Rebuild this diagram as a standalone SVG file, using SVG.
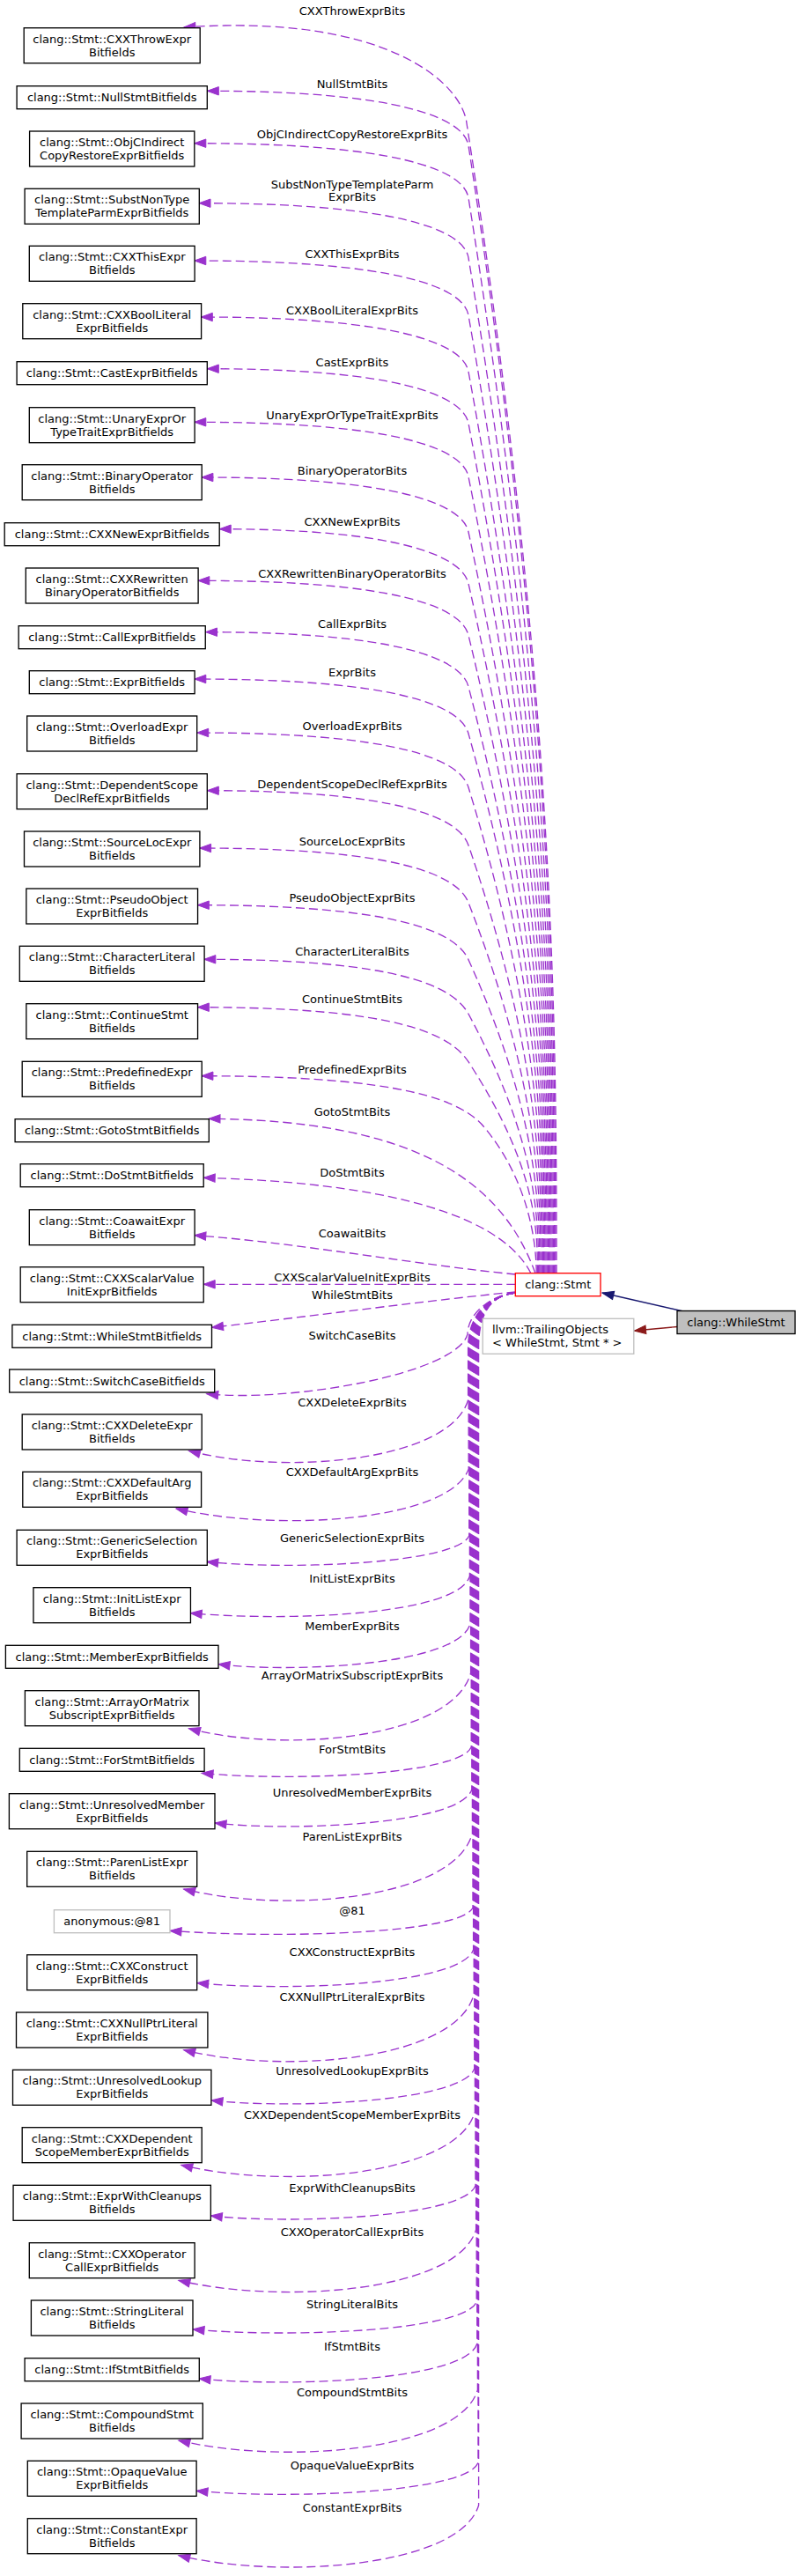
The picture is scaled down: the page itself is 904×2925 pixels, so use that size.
<svg xmlns="http://www.w3.org/2000/svg" width="904" height="2925" viewBox="0 0 904 2925">
<style>
text{font-family:"DejaVu Sans","Liberation Sans",sans-serif;font-size:13px;fill:#000}
.c{text-anchor:middle}
.b{fill:#fff;stroke:#000;stroke-width:1.33}
.g{fill:#fff;stroke:#bfbfbf;stroke-width:1.33}
.e{fill:none;stroke:#9a32cd;stroke-width:1.33;stroke-dasharray:10,5;marker-end:url(#pa)}
</style>
<defs>
<marker id="pa" markerUnits="userSpaceOnUse" markerWidth="15" markerHeight="11" refX="13" refY="5" orient="auto" overflow="visible"><path d="M0,0.3 L13,5 L0,9.7 Z" fill="#9a32cd" stroke="#9a32cd" stroke-width="1"/></marker>
<marker id="na" markerUnits="userSpaceOnUse" markerWidth="15" markerHeight="11" refX="13" refY="5" orient="auto" overflow="visible"><path d="M0,0.3 L13,5 L0,9.7 Z" fill="#191970" stroke="#191970" stroke-width="1"/></marker>
<marker id="ra" markerUnits="userSpaceOnUse" markerWidth="15" markerHeight="11" refX="13" refY="5" orient="auto" overflow="visible"><path d="M0,0.3 L13,5 L0,9.7 Z" fill="#8b1a1a" stroke="#8b1a1a" stroke-width="1"/></marker>
</defs>
<rect x="0" y="0" width="904" height="2925" fill="#fff"/>

<g id="connectors">
<path class="e" d="M632,1446 C632,1184.8 632,793 530,140 C525,95 440,15 209,31"/>
<path class="e" d="M630.8,1446 C630.8,1189.9 630.8,805.7 532,165.3 C527.1,133.3 450,103.3 235.3,103.3"/>
<path class="e" d="M629.6,1446 C629.6,1201.7 629.6,835.4 532,224.7 C526.9,192.7 450,162.7 220.8,162.7"/>
<path class="e" d="M628.4,1446 C628.4,1215.3 628.4,869.4 532,292.7 C526.7,260.7 450,230.7 226,230.7"/>
<path class="e" d="M627.2,1446 C627.2,1228.4 627.2,902 532,358 C526.4,326 450,296 220.8,296"/>
<path class="e" d="M626,1446 C626,1241.2 626,934 532,422 C526.1,390 450,360 228.3,360"/>
<path class="e" d="M624.8,1446 C624.8,1252.9 624.8,963.4 532,480.7 C525.8,448.7 450,418.7 235.3,418.7"/>
<path class="e" d="M623.6,1446 C623.6,1265.1 623.6,993.7 532,541.3 C525.5,509.3 450,479.3 220.8,479.3"/>
<path class="e" d="M622.4,1446 C622.4,1277.6 622.4,1025 532,604 C525.1,572 450,542 228.9,542"/>
<path class="e" d="M621.2,1446 C621.2,1289.3 621.2,1054.4 532,662.7 C524.7,630.7 450,600.7 249.2,600.7"/>
<path class="e" d="M620,1446 C620,1301.1 620,1083.7 532,721.3 C524.2,689.3 450,659.3 224.8,659.3"/>
<path class="e" d="M618.8,1446 C618.8,1312.7 618.8,1112.9 532,779.7 C523.7,747.7 450,717.7 233.5,717.7"/>
<path class="e" d="M617.6,1446 C617.6,1323.4 617.6,1139.5 532,833 C523.1,801 450,771 220.8,771"/>
<path class="e" d="M616.4,1446 C616.4,1335.6 616.4,1170 532,894 C522.2,862 450,832 223.7,832"/>
<path class="e" d="M615.2,1446 C615.2,1348.7 615.2,1202.9 532,959.7 C521.1,927.7 450,897.7 235.3,897.7"/>
<path class="e" d="M614,1446 C614,1361.8 614,1235.5 532,1025 C519.5,993 450,963 226.6,963"/>
<path class="e" d="M612.8,1446 C612.8,1374.7 612.8,1267.9 532,1089.7 C517.5,1057.7 450,1027.7 224.3,1027.7"/>
<path class="e" d="M611.6,1446 C611.6,1387.1 611.6,1298.7 532,1151.3 C514.7,1119.3 450,1089.3 231.8,1089.3"/>
<path class="e" d="M610.4,1446 C610.4,1397.9 610.4,1325.9 532,1205.7 C511.1,1173.7 450,1143.7 224.3,1143.7"/>
<path class="e" d="M609.2,1446 C609.2,1410 600,1340 550,1280 C525,1250 460,1221.7 228.9,1221.7"/>
<path class="e" d="M608,1446 C570,1340 470,1272 237,1270.3"/>
<path class="e" d="M603,1446 C585,1410 520,1345 231.2,1337.3"/>
<path class="e" d="M585.3,1447 C480,1437 330,1410 220.8,1402.7"/>
<path class="e" d="M585.3,1458.3 L231.2,1458.3"/>
<path class="e" d="M585.3,1467 C500,1475 350,1495 240.5,1507.3"/>
<path class="e" d="M585,1468 C560,1470 531,1490 531,1515 C518,1560 330,1592.7 234.7,1582.7"/>
<path class="e" d="M585,1468 C558,1471 531.6,1490 531.6,1530 L531.6,1589.7 C510.6,1660.3 320,1675.3 214.4,1647.3"/>
<path class="e" d="M585,1468 C558,1471 532.2,1490 532.2,1530 L532.2,1668 C511.2,1726 320,1741 200,1713"/>
<path class="e" d="M585,1468 C558,1471 532.8,1490 532.8,1530 L532.8,1743.7 C519.8,1775.3 330,1783.3 234.7,1773.3"/>
<path class="e" d="M585,1468 C558,1471 533.4,1490 533.4,1530 L533.4,1789.7 C520.4,1833.7 330,1841.7 216.2,1831.7"/>
<path class="e" d="M585,1468 C558,1471 534,1490 534,1530 L534,1843.7 C521,1891.7 330,1899.7 248,1889.7"/>
<path class="e" d="M585,1468 C558,1471 534.6,1490 534.6,1530 L534.6,1899.7 C513.6,1975.7 320,1990.7 214.4,1962.7"/>
<path class="e" d="M585,1468 C558,1471 535.2,1490 535.2,1530 L535.2,1983.7 C522.2,2015.3 330,2023.3 229,2013.3"/>
<path class="e" d="M585,1468 C558,1471 535.8,1490 535.8,1530 L535.8,2032 C522.8,2072 330,2080 244,2070"/>
<path class="e" d="M585,1468 C558,1471 536.4,1490 536.4,1530 L536.4,2082 C515.4,2158 320,2173 208.6,2145"/>
<path class="e" d="M585,1468 C558,1471 537,1490 537,1530 L537,2166.3 C524,2194.3 330,2202.3 193,2192.3"/>
<path class="e" d="M585,1468 C558,1471 537.6,1490 537.6,1530 L537.6,2213.7 C524.6,2253.7 330,2261.7 223.7,2251.7"/>
<path class="e" d="M585,1468 C558,1471 538.2,1490 538.2,1530 L538.2,2264.7 C517.2,2340.7 320,2355.7 208.6,2327.7"/>
<path class="e" d="M585,1468 C558,1471 538.8,1490 538.8,1530 L538.8,2348.7 C525.8,2387 330,2395 240,2385"/>
<path class="e" d="M585,1468 C558,1471 539.4,1490 539.4,1530 L539.4,2398 C518.4,2471.3 320,2486.3 205.7,2458.3"/>
<path class="e" d="M585,1468 C558,1471 540,1490 540,1530 L540,2481.7 C527,2518 330,2526 239.3,2516"/>
<path class="e" d="M585,1468 C558,1471 540.6,1490 540.6,1530 L540.6,2531.7 C519.6,2602.3 320,2617.3 202.8,2589.3"/>
<path class="e" d="M585,1468 C558,1471 541.2,1490 541.2,1530 L541.2,2613.7 C528.2,2647 330,2655 219,2645"/>
<path class="e" d="M585,1468 C558,1471 541.8,1490 541.8,1530 L541.8,2661.3 C528.8,2703 330,2711 226,2701"/>
<path class="e" d="M585,1468 C558,1471 542.4,1490 542.4,1530 L542.4,2713.7 C521.4,2784 320,2799 202.8,2771"/>
<path class="e" d="M585,1468 C558,1471 543,1490 543,1530 L543,2796.3 C530,2830.3 330,2838.3 223,2828.3"/>
<path class="e" d="M585,1468 C558,1471 543.6,1490 543.6,1530 L543.6,2844.7 C522.6,2914.7 320,2929.7 202.8,2901.7"/>
<path d="M776,1489 L684,1468" fill="none" stroke="#191970" stroke-width="1.33" marker-end="url(#na)"/>
<path d="M769,1506.5 L720.5,1511" fill="none" stroke="#8b1a1a" stroke-width="1.33" marker-end="url(#ra)"/>
<g class="c">
<text x="400" y="16.5">CXXThrowExprBits</text>
<text x="400" y="100.2">NullStmtBits</text>
<text x="400" y="157.2">ObjCIndirectCopyRestoreExprBits</text>
<text x="400" y="213.5">SubstNonTypeTemplateParm</text>
<text x="400" y="228.2">ExprBits</text>
<text x="400" y="293.2">CXXThisExprBits</text>
<text x="400" y="356.5">CXXBoolLiteralExprBits</text>
<text x="400" y="416.2">CastExprBits</text>
<text x="400" y="476.2">UnaryExprOrTypeTraitExprBits</text>
<text x="400" y="538.8">BinaryOperatorBits</text>
<text x="400" y="596.8">CXXNewExprBits</text>
<text x="400" y="656.2">CXXRewrittenBinaryOperatorBits</text>
<text x="400" y="712.8">CallExprBits</text>
<text x="400" y="768.2">ExprBits</text>
<text x="400" y="829.2">OverloadExprBits</text>
<text x="400" y="895.2">DependentScopeDeclRefExprBits</text>
<text x="400" y="960.2">SourceLocExprBits</text>
<text x="400" y="1024.2">PseudoObjectExprBits</text>
<text x="400" y="1084.8">CharacterLiteralBits</text>
<text x="400" y="1139.2">ContinueStmtBits</text>
<text x="400" y="1219.2">PredefinedExprBits</text>
<text x="400" y="1267.2">GotoStmtBits</text>
<text x="400" y="1336.2">DoStmtBits</text>
<text x="400" y="1404.8">CoawaitBits</text>
<text x="400" y="1455.2">CXXScalarValueInitExprBits</text>
<text x="400" y="1474.5">WhileStmtBits</text>
<text x="400" y="1521.2">SwitchCaseBits</text>
<text x="400" y="1597.2">CXXDeleteExprBits</text>
<text x="400" y="1675.5">CXXDefaultArgExprBits</text>
<text x="400" y="1751.2">GenericSelectionExprBits</text>
<text x="400" y="1797.2">InitListExprBits</text>
<text x="400" y="1851.2">MemberExprBits</text>
<text x="400" y="1907.2">ArrayOrMatrixSubscriptExprBits</text>
<text x="400" y="1991.2">ForStmtBits</text>
<text x="400" y="2039.5">UnresolvedMemberExprBits</text>
<text x="400" y="2089.5">ParenListExprBits</text>
<text x="400" y="2173.8">@81</text>
<text x="400" y="2221.2">CXXConstructExprBits</text>
<text x="400" y="2272.2">CXXNullPtrLiteralExprBits</text>
<text x="400" y="2356.2">UnresolvedLookupExprBits</text>
<text x="400" y="2405.5">CXXDependentScopeMemberExprBits</text>
<text x="400" y="2489.2">ExprWithCleanupsBits</text>
<text x="400" y="2539.2">CXXOperatorCallExprBits</text>
<text x="400" y="2621.2">StringLiteralBits</text>
<text x="400" y="2668.8">IfStmtBits</text>
<text x="400" y="2721.2">CompoundStmtBits</text>
<text x="400" y="2803.8">OpaqueValueExprBits</text>
<text x="400" y="2852.2">ConstantExprBits</text>
</g>
</g>

<g id="n_whilestmt"><rect x="769" y="1488.5" width="134" height="26" fill="#bfbfbf" stroke="#000" stroke-width="1.33"/><text class="c" x="836" y="1506">clang::WhileStmt</text></g>
<g id="n_stmt"><rect x="585.3" y="1445.7" width="96.7" height="26" fill="#fff" stroke="#ff0000" stroke-width="1.33"/><text class="c" x="633.7" y="1463.2">clang::Stmt</text></g>
<g id="n_trailing"><rect class="g" x="548.2" y="1497.3" width="171.6" height="40"/><text x="559" y="1514.3">llvm::TrailingObjects</text><text x="559" y="1529.3">&lt; WhileStmt, Stmt * &gt;</text></g>

<g id="n1"><rect class="b" x="27.2" y="31.7" width="200" height="40"/><text class="c" x="127.2" y="48.7">clang::Stmt::CXXThrowExpr</text><text class="c" x="127.2" y="63.7">Bitfields</text></g>
<g id="n2"><rect class="b" x="19.1" y="97.7" width="216.2" height="26"/><text class="c" x="127.2" y="115.2">clang::Stmt::NullStmtBitfields</text></g>
<g id="n3"><rect class="b" x="33.6" y="149" width="187.2" height="40"/><text class="c" x="127.2" y="166">clang::Stmt::ObjCIndirect</text><text class="c" x="127.2" y="181">CopyRestoreExprBitfields</text></g>
<g id="n4"><rect class="b" x="28.1" y="214.3" width="198.2" height="40"/><text class="c" x="127.2" y="231.3">clang::Stmt::SubstNonType</text><text class="c" x="127.2" y="246.3">TemplateParmExprBitfields</text></g>
<g id="n5"><rect class="b" x="33.3" y="279.3" width="187.8" height="40"/><text class="c" x="127.2" y="296.3">clang::Stmt::CXXThisExpr</text><text class="c" x="127.2" y="311.3">Bitfields</text></g>
<g id="n6"><rect class="b" x="25.8" y="344.7" width="202.8" height="40"/><text class="c" x="127.2" y="361.7">clang::Stmt::CXXBoolLiteral</text><text class="c" x="127.2" y="376.7">ExprBitfields</text></g>
<g id="n7"><rect class="b" x="19.1" y="410.7" width="216.2" height="26"/><text class="c" x="127.2" y="428.2">clang::Stmt::CastExprBitfields</text></g>
<g id="n8"><rect class="b" x="33.3" y="462.7" width="187.8" height="40"/><text class="c" x="127.2" y="479.7">clang::Stmt::UnaryExprOr</text><text class="c" x="127.2" y="494.7">TypeTraitExprBitfields</text></g>
<g id="n9"><rect class="b" x="25.2" y="527.7" width="204" height="40"/><text class="c" x="127.2" y="544.7">clang::Stmt::BinaryOperator</text><text class="c" x="127.2" y="559.7">Bitfields</text></g>
<g id="n10"><rect class="b" x="5.2" y="593.7" width="244" height="26"/><text class="c" x="127.2" y="611.2">clang::Stmt::CXXNewExprBitfields</text></g>
<g id="n11"><rect class="b" x="29.3" y="645" width="195.8" height="40"/><text class="c" x="127.2" y="662">clang::Stmt::CXXRewritten</text><text class="c" x="127.2" y="677">BinaryOperatorBitfields</text></g>
<g id="n12"><rect class="b" x="21.15" y="710.7" width="212.1" height="26"/><text class="c" x="127.2" y="728.2">clang::Stmt::CallExprBitfields</text></g>
<g id="n13"><rect class="b" x="33.3" y="761.7" width="187.8" height="26"/><text class="c" x="127.2" y="779.2">clang::Stmt::ExprBitfields</text></g>
<g id="n14"><rect class="b" x="30.7" y="813" width="193" height="40"/><text class="c" x="127.2" y="830">clang::Stmt::OverloadExpr</text><text class="c" x="127.2" y="845">Bitfields</text></g>
<g id="n15"><rect class="b" x="19.1" y="878.7" width="216.2" height="40"/><text class="c" x="127.2" y="895.7">clang::Stmt::DependentScope</text><text class="c" x="127.2" y="910.7">DeclRefExprBitfields</text></g>
<g id="n16"><rect class="b" x="27.5" y="944" width="199.4" height="40"/><text class="c" x="127.2" y="961">clang::Stmt::SourceLocExpr</text><text class="c" x="127.2" y="976">Bitfields</text></g>
<g id="n17"><rect class="b" x="29.85" y="1009" width="194.7" height="40"/><text class="c" x="127.2" y="1026">clang::Stmt::PseudoObject</text><text class="c" x="127.2" y="1041">ExprBitfields</text></g>
<g id="n18"><rect class="b" x="22.3" y="1074.3" width="209.8" height="40"/><text class="c" x="127.2" y="1091.3">clang::Stmt::CharacterLiteral</text><text class="c" x="127.2" y="1106.3">Bitfields</text></g>
<g id="n19"><rect class="b" x="29.85" y="1139.7" width="194.7" height="40"/><text class="c" x="127.2" y="1156.7">clang::Stmt::ContinueStmt</text><text class="c" x="127.2" y="1171.7">Bitfields</text></g>
<g id="n20"><rect class="b" x="25.2" y="1205.3" width="204" height="40"/><text class="c" x="127.2" y="1222.3">clang::Stmt::PredefinedExpr</text><text class="c" x="127.2" y="1237.3">Bitfields</text></g>
<g id="n21"><rect class="b" x="17.1" y="1270.7" width="220.2" height="26"/><text class="c" x="127.2" y="1288.2">clang::Stmt::GotoStmtBitfields</text></g>
<g id="n22"><rect class="b" x="23.2" y="1321.7" width="208" height="26"/><text class="c" x="127.2" y="1339.2">clang::Stmt::DoStmtBitfields</text></g>
<g id="n23"><rect class="b" x="33.3" y="1373.7" width="187.8" height="40"/><text class="c" x="127.2" y="1390.7">clang::Stmt::CoawaitExpr</text><text class="c" x="127.2" y="1405.7">Bitfields</text></g>
<g id="n24"><rect class="b" x="23.2" y="1438.7" width="208" height="40"/><text class="c" x="127.2" y="1455.7">clang::Stmt::CXXScalarValue</text><text class="c" x="127.2" y="1470.7">InitExprBitfields</text></g>
<g id="n25"><rect class="b" x="13.9" y="1504.3" width="226.6" height="26"/><text class="c" x="127.2" y="1521.8">clang::Stmt::WhileStmtBitfields</text></g>
<g id="n26"><rect class="b" x="10.7" y="1555" width="233" height="26"/><text class="c" x="127.2" y="1572.5">clang::Stmt::SwitchCaseBitfields</text></g>
<g id="n27"><rect class="b" x="25.2" y="1606" width="204" height="40"/><text class="c" x="127.2" y="1623">clang::Stmt::CXXDeleteExpr</text><text class="c" x="127.2" y="1638">Bitfields</text></g>
<g id="n28"><rect class="b" x="25.8" y="1671.3" width="202.8" height="40"/><text class="c" x="127.2" y="1688.3">clang::Stmt::CXXDefaultArg</text><text class="c" x="127.2" y="1703.3">ExprBitfields</text></g>
<g id="n29"><rect class="b" x="19.1" y="1737.3" width="216.2" height="40"/><text class="c" x="127.2" y="1754.3">clang::Stmt::GenericSelection</text><text class="c" x="127.2" y="1769.3">ExprBitfields</text></g>
<g id="n30"><rect class="b" x="37.95" y="1802.7" width="178.5" height="40"/><text class="c" x="127.2" y="1819.7">clang::Stmt::InitListExpr</text><text class="c" x="127.2" y="1834.7">Bitfields</text></g>
<g id="n31"><rect class="b" x="6.4" y="1868.3" width="241.6" height="26"/><text class="c" x="127.2" y="1885.8">clang::Stmt::MemberExprBitfields</text></g>
<g id="n32"><rect class="b" x="28.4" y="1919.7" width="197.6" height="40"/><text class="c" x="127.2" y="1936.7">clang::Stmt::ArrayOrMatrix</text><text class="c" x="127.2" y="1951.7">SubscriptExprBitfields</text></g>
<g id="n33"><rect class="b" x="22.3" y="1985.3" width="209.8" height="26"/><text class="c" x="127.2" y="2002.8">clang::Stmt::ForStmtBitfields</text></g>
<g id="n34"><rect class="b" x="10.4" y="2036.7" width="233.6" height="40"/><text class="c" x="127.2" y="2053.7">clang::Stmt::UnresolvedMember</text><text class="c" x="127.2" y="2068.7">ExprBitfields</text></g>
<g id="n35"><rect class="b" x="30.7" y="2102.3" width="193" height="40"/><text class="c" x="127.2" y="2119.3">clang::Stmt::ParenListExpr</text><text class="c" x="127.2" y="2134.3">Bitfields</text></g>
<g id="n36"><rect class="g" x="61.4" y="2168.7" width="131.6" height="26"/><text class="c" x="127.2" y="2186.2">anonymous:@81</text></g>
<g id="n37"><rect class="b" x="30.7" y="2219.7" width="193" height="40"/><text class="c" x="127.2" y="2236.7">clang::Stmt::CXXConstruct</text><text class="c" x="127.2" y="2251.7">ExprBitfields</text></g>
<g id="n38"><rect class="b" x="18.5" y="2285" width="217.4" height="40"/><text class="c" x="127.2" y="2302">clang::Stmt::CXXNullPtrLiteral</text><text class="c" x="127.2" y="2317">ExprBitfields</text></g>
<g id="n39"><rect class="b" x="14.5" y="2350.3" width="225.4" height="40"/><text class="c" x="127.2" y="2367.3">clang::Stmt::UnresolvedLookup</text><text class="c" x="127.2" y="2382.3">ExprBitfields</text></g>
<g id="n40"><rect class="b" x="25.2" y="2415.7" width="204" height="40"/><text class="c" x="127.2" y="2432.7">clang::Stmt::CXXDependent</text><text class="c" x="127.2" y="2447.7">ScopeMemberExprBitfields</text></g>
<g id="n41"><rect class="b" x="15.05" y="2481.3" width="224.3" height="40"/><text class="c" x="127.2" y="2498.3">clang::Stmt::ExprWithCleanups</text><text class="c" x="127.2" y="2513.3">Bitfields</text></g>
<g id="n42"><rect class="b" x="33.3" y="2546.7" width="187.8" height="40"/><text class="c" x="127.2" y="2563.7">clang::Stmt::CXXOperator</text><text class="c" x="127.2" y="2578.7">CallExprBitfields</text></g>
<g id="n43"><rect class="b" x="35.4" y="2612" width="183.6" height="40"/><text class="c" x="127.2" y="2629">clang::Stmt::StringLiteral</text><text class="c" x="127.2" y="2644">Bitfields</text></g>
<g id="n44"><rect class="b" x="28.1" y="2677.7" width="198.2" height="26"/><text class="c" x="127.2" y="2695.2">clang::Stmt::IfStmtBitfields</text></g>
<g id="n45"><rect class="b" x="24.1" y="2729" width="206.2" height="40"/><text class="c" x="127.2" y="2746">clang::Stmt::CompoundStmt</text><text class="c" x="127.2" y="2761">Bitfields</text></g>
<g id="n46"><rect class="b" x="31.3" y="2794.3" width="191.8" height="40"/><text class="c" x="127.2" y="2811.3">clang::Stmt::OpaqueValue</text><text class="c" x="127.2" y="2826.3">ExprBitfields</text></g>
<g id="n47"><rect class="b" x="31.3" y="2859.7" width="191.8" height="40"/><text class="c" x="127.2" y="2876.7">clang::Stmt::ConstantExpr</text><text class="c" x="127.2" y="2891.7">Bitfields</text></g>
</svg>
